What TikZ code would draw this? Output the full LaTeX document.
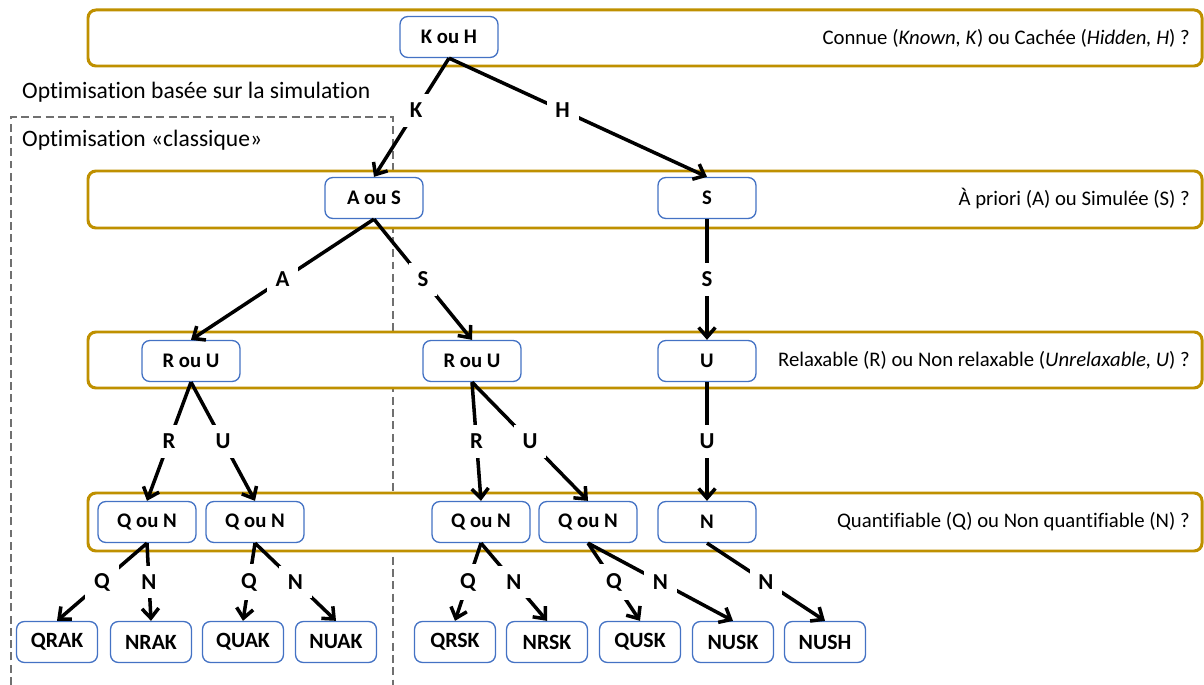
\documentclass[tikz,border=0pt]{standalone}
\usepackage{fontspec}
\setmainfont{Carlito}[Ligatures=NoCommon]
\usetikzlibrary{arrows.meta}
\definecolor{dore}{HTML}{BF9000}
\definecolor{bleu}{HTML}{4472C4}
\definecolor{gris}{HTML}{707070}
\begin{document}
\begin{tikzpicture}[x=0.02cm,y=-0.02cm,
	font=\fontsize{11.8}{14}\selectfont,
	bande/.style={draw=dore,fill=white,line width=1.7pt,rounded corners=4.5pt},
	noeud/.style={draw=bleu,fill=white,line width=0.75pt,rounded corners=4.5pt,minimum width=1.96cm,minimum height=0.82cm,font=\bfseries\fontsize{11.8}{14}\selectfont},
	feuille/.style={noeud,minimum width=1.62cm,font=\bfseries\fontsize{12.4}{14}\selectfont},
	etiq/.style={fill=white,inner xsep=5pt,inner ysep=5pt,font=\bfseries\fontsize{13}{15}\selectfont},
	fleche/.style={line width=2pt,-{Straight Barb[length=5.5pt,width=9.5pt]}}]
				\useasboundingbox (0,0) rectangle (1204,685);
				%Cadre optimisation classique
				\draw[gris,line width=0.6pt,dash pattern=on 4.5pt off 2.5pt] (11,685) -- (11,117) -- (393,117) -- (393,685);
				\node[anchor=west,font=\fontsize{13.4}{16}\selectfont] (OS) at (16,92) {Optimisation basée sur la simulation};
				\node[anchor=west,font=\fontsize{13.4}{16}\selectfont] (OC) at (16,140) {Optimisation «classique»};
				%Bandes des questions
				\draw[bande] (88,10) rectangle (1202,66);
				\draw[bande] (88,171) rectangle (1202,228);
				\draw[bande] (88,332) rectangle (1202,388);
				\draw[bande] (88,493) rectangle (1202,551);
				\node[anchor=east] (T1) at (1196,38) {Connue (\textit{Known, K}) ou Cachée (\textit{Hidden, H}) ?};
				\node[anchor=east] (T2) at (1196,199) {À priori (A) ou Simulée (S) ?};
				\node[anchor=east] (T3) at (1196,360) {Relaxable (R) ou Non relaxable (\textit{Unrelaxable, U}) ?};
				\node[anchor=east] (T4) at (1196,522) {Quantifiable (Q) ou Non quantifiable (N) ?};
				%Noeuds de l'arbre
				\node[noeud] (KH) at (449,37) {K ou H};
				\node[noeud] (AS) at (374,198) {A ou S};
				\node[noeud] (S) at (707,198) {S};
				\node[noeud] (RU1) at (191,361) {R ou U};
				\node[noeud] (RU2) at (472,361) {R ou U};
				\node[noeud] (U) at (707,361) {U};
				\node[noeud] (QN1) at (147,522) {Q ou N};
				\node[noeud] (QN2) at (255,522) {Q ou N};
				\node[noeud] (QN3) at (481,522) {Q ou N};
				\node[noeud] (QN4) at (588,522) {Q ou N};
				\node[noeud] (N) at (707,522) {N};
				%Feuilles
				\node[feuille] (QRAK) at (57,642) {QRAK};
				\node[feuille] (NRAK) at (151,642) {NRAK};
				\node[feuille] (QUAK) at (243,642) {QUAK};
				\node[feuille] (NUAK) at (336,642) {NUAK};
				\node[feuille] (QRSK) at (455,642) {QRSK};
				\node[feuille] (NRSK) at (547,642) {NRSK};
				\node[feuille] (QUSK) at (640,642) {QUSK};
				\node[feuille] (NUSK) at (733,642) {NUSK};
				\node[feuille] (NUSH) at (825,642) {NUSH};
				%Arêtes
				\draw[fleche] (KH.south) -- node[etiq,pos=0.44] {K} (AS.north);
				\draw[fleche] (KH.south) -- node[etiq,pos=0.44] {H} (S.north);
				\draw[fleche] (AS.south) -- node[etiq] {A} (RU1.north);
				\draw[fleche] (AS.south) -- node[etiq] {S} (RU2.north);
				\draw[fleche] (S.south) -- node[etiq] {S} (U.north);
				\draw[fleche] (RU1.south) -- node[etiq] {R} (QN1.north);
				\draw[fleche] (RU1.south) -- node[etiq] {U} (QN2.north);
				\draw[fleche] (RU2.south) -- node[etiq] {R} (QN3.north);
				\draw[fleche] (RU2.south) -- node[etiq] {U} (QN4.north);
				\draw[fleche] (U.south) -- node[etiq] {U} (N.north);
				\draw[fleche] (QN1.south) -- node[etiq] {Q} (QRAK.north);
				\draw[fleche] (QN1.south) -- node[etiq] {N} (NRAK.north);
				\draw[fleche] (QN2.south) -- node[etiq] {Q} (QUAK.north);
				\draw[fleche] (QN2.south) -- node[etiq] {N} (NUAK.north);
				\draw[fleche] (QN3.south) -- node[etiq] {Q} (QRSK.north);
				\draw[fleche] (QN3.south) -- node[etiq] {N} (NRSK.north);
				\draw[fleche] (QN4.south) -- node[etiq] {Q} (QUSK.north);
				\draw[fleche] (QN4.south) -- node[etiq] {N} (NUSK.north);
				\draw[fleche] (N.south) -- node[etiq] {N} (NUSH.north);
			\end{tikzpicture}
\end{document}
